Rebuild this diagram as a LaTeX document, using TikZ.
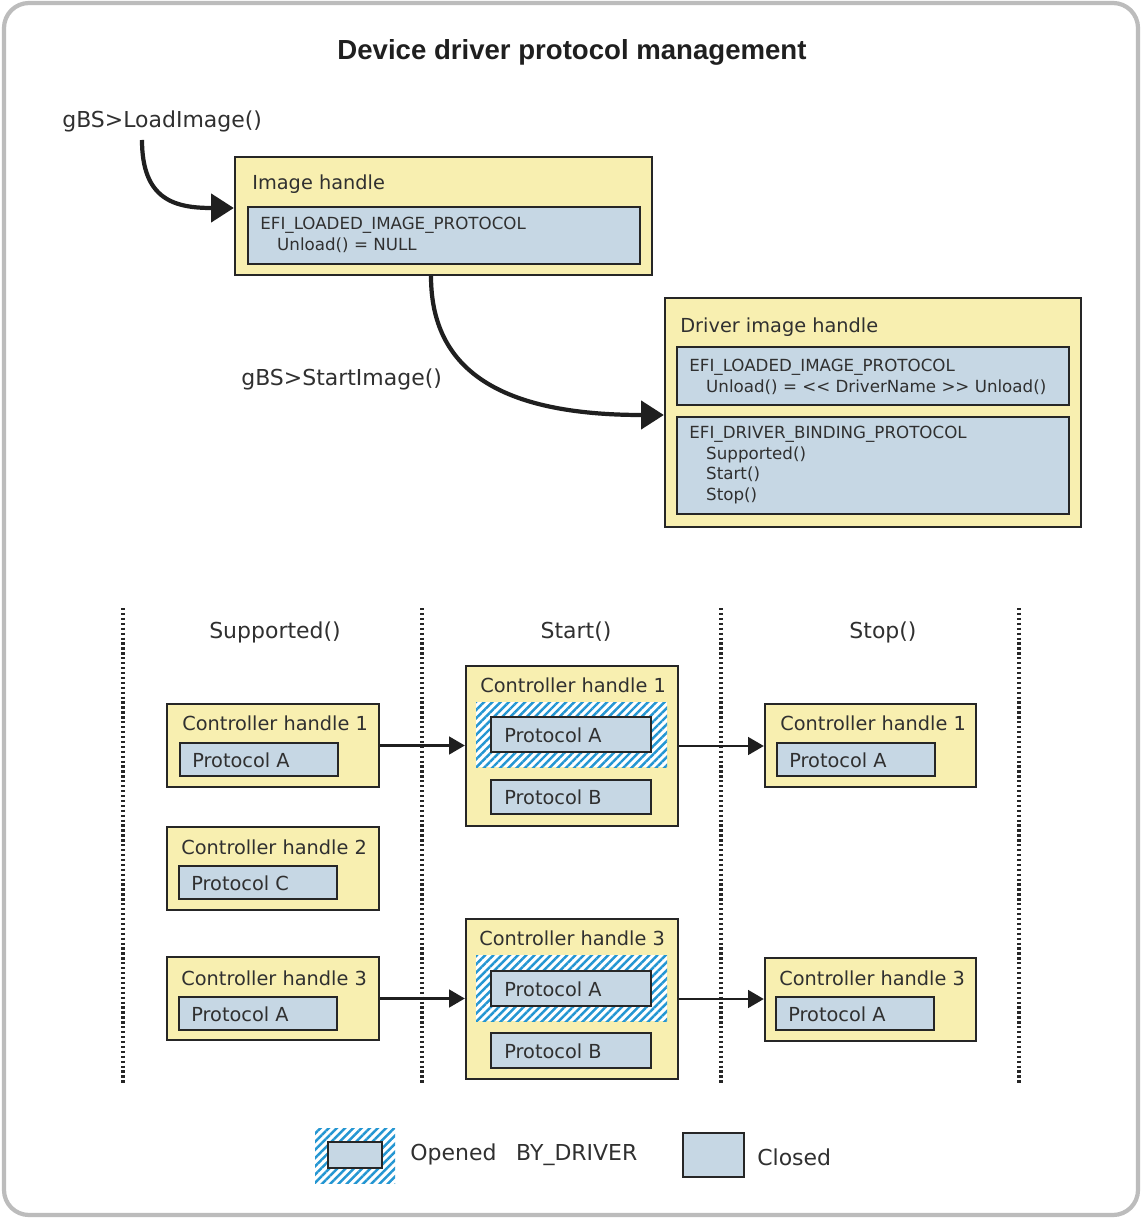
\documentclass[tikz,border=0pt]{standalone}
\usepackage{fontspec}
\setmainfont{DejaVu Sans}
\newfontfamily\titlefont{Liberation Sans}
\usetikzlibrary{arrows.meta,fit,patterns.meta}
\definecolor{handlefill}{RGB}{248,239,176}
\definecolor{protofill}{RGB}{198,215,228}
\definecolor{hatchblue}{RGB}{36,150,210}
\definecolor{edgegray}{RGB}{38,38,38}
\definecolor{framegray}{RGB}{188,188,188}
\definecolor{txt}{RGB}{48,48,48}

\begin{document}
\begin{tikzpicture}[x=0.02cm,y=-0.02cm,every node/.style={text=txt},
	handle/.style={draw=edgegray,line width=1.3pt,fill=handlefill,inner sep=0pt},
	proto/.style={draw=edgegray,line width=1.3pt,fill=protofill,inner sep=0pt},
	hatch/.style={preaction={fill=white},pattern={Lines[angle=45,distance=3.3pt,line width=1.4pt]},pattern color=hatchblue,inner sep=0pt},
	hname/.style={anchor=west,inner sep=0pt,font=\fontsize{11}{13}\selectfont},
	ptext/.style={anchor=west,inner sep=0pt,align=left,font=\fontsize{9.5}{11.6}\selectfont},
	call/.style={anchor=west,inner sep=0pt,font=\fontsize{12.5}{15}\selectfont},
	bigarrow/.style={line width=2.4pt,draw=black!88,-{Triangle[length=13pt,width=16pt]}},
	smallarrow/.style={line width=1.6pt,draw=black!88,-{Triangle[length=9pt,width=10pt]}},
	sep/.style={line width=2pt,dash pattern=on 1.3pt off 1.5pt,draw=black!85}]

	\useasboundingbox (0,0) rectangle (1143,1219);
	\fill[white] (0,0) rectangle (1143,1219);
	\draw[framegray,line width=2.4pt,rounded corners=0.5cm] (4,3) rectangle (1138,1215);

	\node[font={\titlefont\bfseries\fontsize{15.7}{18}\selectfont},text=black!88] (title) at (572,52) {Device driver protocol management};

	% image handles
	\node[call] (load) at (62,121) {gBS>LoadImage()};
	\node[call] (start) at (241,379) {gBS>StartImage()};

	\node[handle,fit={(235,157) (652,275)}] (ih) {};
	\node[hname] (ihname) at (252,184) {Image handle};
	\node[proto,fit={(248,207) (640,264)}] (ihp) {};
	\node[ptext] (ihptext) at (260,235) {EFI\_LOADED\_IMAGE\_PROTOCOL\\\hspace*{9.6pt}Unload() = NULL};

	\node[handle,fit={(665,298) (1081,527)}] (dih) {};
	\node[hname] (dihname) at (680,327) {Driver image handle};
	\node[proto,fit={(677,347) (1069,405)}] (lip) {};
	\node[ptext] (liptext) at (689,377) {EFI\_LOADED\_IMAGE\_PROTOCOL\\\hspace*{9.6pt}Unload() = <\kern0pt< DriverName >\kern0pt> Unload()};
	\node[proto,fit={(677,417) (1069,514)}] (dbp) {};
	\node[ptext] (dbptext) at (689,465) {EFI\_DRIVER\_BINDING\_PROTOCOL\\\hspace*{9.6pt}Supported()\\\hspace*{9.6pt}Start()\\\hspace*{9.6pt}Stop()};

	\coordinate (loadfoot) at (142,140);
	\draw[bigarrow] (loadfoot) .. controls (142,200) and (175,208) .. ([yshift=0.16cm]ih.west);
	\draw[bigarrow] ([xshift=-0.25cm]ih.south) .. controls (431,370) and (500,415) .. ([yshift=-0.05cm]dih.west);

	% columns
	\foreach \x in {123,422,721,1019}
		\draw[sep] (\x,608) -- (\x,1085);
	\node[call,anchor=center] (hsup) at (275,632) {Supported()};
	\node[call,anchor=center] (hstart) at (576,632) {Start()};
	\node[call,anchor=center] (hstop) at (883,632) {Stop()};

	% Supported()
	\node[handle,fit={(167,704) (379,787)}] (sup1) {};
	\node[hname] (sup1name) at (182,723) {Controller handle 1};
	\node[proto,fit={(180,743) (338,776)}] (sup1a) {};
	\node[hname] (sup1atext) at (192,760) {Protocol A};

	\node[handle,fit={(167,827) (379,910)}] (sup2) {};
	\node[hname] (sup2name) at (181,847) {Controller handle 2};
	\node[proto,fit={(179,866) (337,899)}] (sup2c) {};
	\node[hname] (sup2ctext) at (191,883) {Protocol C};

	\node[handle,fit={(167,957) (379,1040)}] (sup3) {};
	\node[hname] (sup3name) at (181,978) {Controller handle 3};
	\node[proto,fit={(179,997) (337,1030)}] (sup3a) {};
	\node[hname] (sup3atext) at (191,1014) {Protocol A};

	% Start()
	\node[handle,fit={(466,666) (678,826)}] (st1) {};
	\node[hname] (st1name) at (480,685) {Controller handle 1};
	\node[hatch,fit={(476,702) (667,767)}] (st1open) {};
	\node[proto,fit={(491,717) (651,752)}] (st1a) {};
	\node[hname] (st1atext) at (504,735) {Protocol A};
	\node[proto,fit={(491,780) (651,814)}] (st1b) {};
	\node[hname] (st1btext) at (504,797) {Protocol B};

	\node[handle,fit={(466,919) (678,1079)}] (st3) {};
	\node[hname] (st3name) at (479,938) {Controller handle 3};
	\node[hatch,fit={(476,955) (667,1021)}] (st3open) {};
	\node[proto,fit={(491,971) (651,1006)}] (st3a) {};
	\node[hname] (st3atext) at (504,989) {Protocol A};
	\node[proto,fit={(491,1033) (651,1068)}] (st3b) {};
	\node[hname] (st3btext) at (504,1051) {Protocol B};

	% Stop()
	\node[handle,fit={(765,704) (976,787)}] (sp1) {};
	\node[hname] (sp1name) at (780,723) {Controller handle 1};
	\node[proto,fit={(777,743) (935,776)}] (sp1a) {};
	\node[hname] (sp1atext) at (789,760) {Protocol A};

	\node[handle,fit={(765,958) (976,1041)}] (sp3) {};
	\node[hname] (sp3name) at (779,978) {Controller handle 3};
	\node[proto,fit={(776,997) (934,1030)}] (sp3a) {};
	\node[hname] (sp3atext) at (788,1014) {Protocol A};

	\draw[smallarrow] (sup1.east) -- (st1.west |- sup1.east);
	\draw[smallarrow] (st1.east) -- (sp1.west |- st1.east);
	\draw[smallarrow] (sup3.east) -- (st3.west |- sup3.east);
	\draw[smallarrow] (st3.east) -- (sp3.west |- st3.east);

	% legend
	\node[hatch,fit={(315,1128) (395,1183)}] (lgopen) {};
	\node[proto,fit={(328,1142) (382,1168)}] (lgopenbox) {};
	\node[call] (lgopentext) at (410,1155) {Opened\hspace{0.9em}BY\_DRIVER};
	\node[proto,fit={(683,1133) (744,1177)}] (lgclosed) {};
	\node[call] (lgclosedtext) at (757,1157) {Closed};
\end{tikzpicture}
\end{document}
